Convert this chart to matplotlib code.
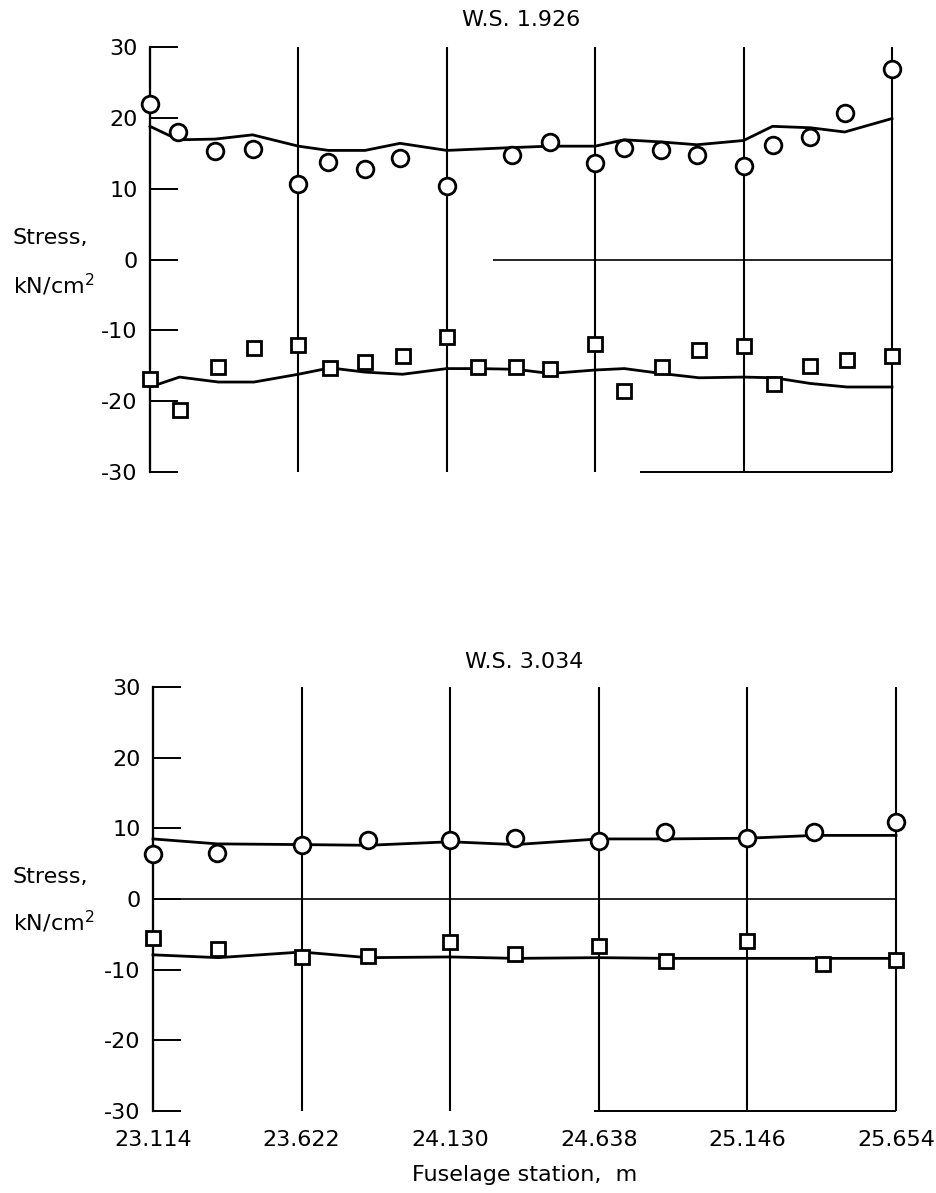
import matplotlib
matplotlib.use("Agg")
import matplotlib.pyplot as plt

plt.rcParams['font.family'] = ['DejaVu Sans']

# ---- data ----
x_ticks = [23.114, 23.622, 24.130, 24.638, 25.146, 25.654]
x_tick_labels = ["23.114", "23.622", "24.130", "24.638", "25.146", "25.654"]
y_ticks = [-30, -20, -10, 0, 10, 20, 30]

# W.S. 1.926
top_circle_x = [23.114, 23.211, 23.337, 23.465, 23.622, 23.725, 23.850, 23.970, 24.130,
                24.353, 24.482, 24.638, 24.737, 24.863, 24.986, 25.146, 25.245, 25.374,
                25.492, 25.654]
top_circle_y = [22.0, 18.0, 15.3, 15.6, 10.7, 13.8, 12.8, 14.3, 10.4,
                14.8, 16.6, 13.6, 15.8, 15.4, 14.8, 13.2, 16.1, 17.3,
                20.7, 26.9]
top_circle_curve = [18.8, 16.9, 17.0, 17.6, 16.0, 15.4, 15.4, 16.4, 15.4,
                    15.8, 16.0, 16.0, 16.9, 16.6, 16.2, 16.8, 18.8, 18.6,
                    18.0, 19.9]

top_square_x = [23.114, 23.215, 23.348, 23.470, 23.622, 23.730, 23.850, 23.979, 24.130,
                24.238, 24.367, 24.484, 24.638, 24.738, 24.866, 24.994, 25.146, 25.251,
                25.374, 25.500, 25.654]
top_square_y = [-16.9, -21.3, -15.2, -12.5, -12.0, -15.3, -14.4, -13.6, -11.0,
                -15.2, -15.2, -15.4, -11.9, -18.6, -15.2, -12.8, -12.2, -17.6,
                -15.0, -14.2, -13.6]
top_square_curve = [-18.0, -16.6, -17.3, -17.3, -16.2, -15.3, -15.9, -16.2, -15.4,
                    -15.4, -15.5, -16.1, -15.6, -15.4, -16.1, -16.7, -16.6, -16.7,
                    -17.5, -18.0, -18.0]

# W.S. 3.034
bot_circle_x = [23.114, 23.334, 23.622, 23.849, 24.130, 24.353, 24.638, 24.865,
                25.146, 25.375, 25.654]
bot_circle_y = [6.3, 6.5, 7.6, 8.4, 8.3, 8.6, 8.2, 9.5, 8.7, 9.5, 10.9]
bot_circle_curve = [8.5, 7.8, 7.7, 7.6, 8.1, 7.7, 8.5, 8.5, 8.6, 9.0, 9.0]

bot_square_x = [23.114, 23.337, 23.622, 23.849, 24.130, 24.353, 24.638, 24.867,
                25.146, 25.404, 25.654]
bot_square_y = [-5.5, -7.1, -8.2, -8.1, -6.1, -7.8, -6.7, -8.8, -6.0, -9.2, -8.7]
bot_square_curve = [-7.9, -8.3, -7.5, -8.3, -8.2, -8.4, -8.3, -8.4, -8.4, -8.4, -8.4]

W, H = 937, 1193
FS = 16
fig = plt.figure(figsize=(W / 100, H / 100), dpi=100)


def make_axes(left_px, top_px, bottom_px, right_px):
    return fig.add_axes([left_px / W, 1 - bottom_px / H,
                         (right_px - left_px) / W, (bottom_px - top_px) / H])


def style_axes(ax, zero_from, bottom_from, show_xlabels):
    ax.set_xlim(x_ticks[0], x_ticks[-1])
    ax.set_ylim(-30, 30)
    for s in ['top', 'right', 'bottom']:
        ax.spines[s].set_visible(False)
    ax.spines['left'].set_linewidth(1.6)
    ax.set_yticks(y_ticks)
    ax.set_yticklabels([str(v) for v in y_ticks])
    ax.tick_params(axis='y', direction='in', length=20, width=1.4,
                   labelsize=FS, pad=9)
    ax.set_xticks(x_ticks)
    if show_xlabels:
        ax.set_xticklabels(x_tick_labels)
    else:
        ax.set_xticklabels([])
    ax.tick_params(axis='x', length=0, labelsize=FS, pad=14)
    ax.vlines(x_ticks, -30, 30, color='black', linewidth=1.5, clip_on=False)
    ax.hlines(0, zero_from, x_ticks[-1], color='black', linewidth=1.2, clip_on=False)
    ax.hlines(-30, bottom_from, x_ticks[-1], color='black', linewidth=1.4, clip_on=False)
    ax.set_facecolor('white')


def draw_series(ax, cx, cy, ccurve, sx, sy, scurve):
    ax.plot(cx, ccurve, color='black', linewidth=2.0, zorder=3, clip_on=False)
    ax.plot(sx, scurve, color='black', linewidth=2.0, zorder=3, clip_on=False)
    ax.plot(cx, cy, linestyle='none', marker='o', markersize=12,
            markerfacecolor='white', markeredgecolor='black',
            markeredgewidth=2.0, zorder=4, clip_on=False)
    ax.plot(sx, sy, linestyle='none', marker='s', markersize=9.5,
            markerfacecolor='white', markeredgecolor='black',
            markeredgewidth=2.0, zorder=4, clip_on=False)


ax1 = make_axes(150, 47, 472, 892)
style_axes(ax1, 24.288, 24.791, False)
draw_series(ax1, top_circle_x, top_circle_y, top_circle_curve,
            top_square_x, top_square_y, top_square_curve)

ax2 = make_axes(153, 687, 1111, 896)
style_axes(ax2, x_ticks[0], 24.62, True)
draw_series(ax2, bot_circle_x, bot_circle_y, bot_circle_curve,
            bot_square_x, bot_square_y, bot_square_curve)

# titles
fig.text(521 / W, 1 - 20 / H, "W.S. 1.926", ha='center', va='center', fontsize=FS)
fig.text(524 / W, 1 - 662 / H, "W.S. 3.034", ha='center', va='center', fontsize=FS)

# y labels
for y_s, y_k in [(238, 285), (877, 922)]:
    fig.text(13 / W, 1 - y_s / H, "Stress,", ha='left', va='center', fontsize=FS)
    fig.text(13 / W, 1 - y_k / H, "kN/cm$^2$", ha='left', va='center', fontsize=FS)

# x label
fig.text(525 / W, 1 - 1175 / H, "Fuselage station,  m", ha='center', va='center',
         fontsize=FS)

fig.savefig("out.png", dpi=100, facecolor='white')
